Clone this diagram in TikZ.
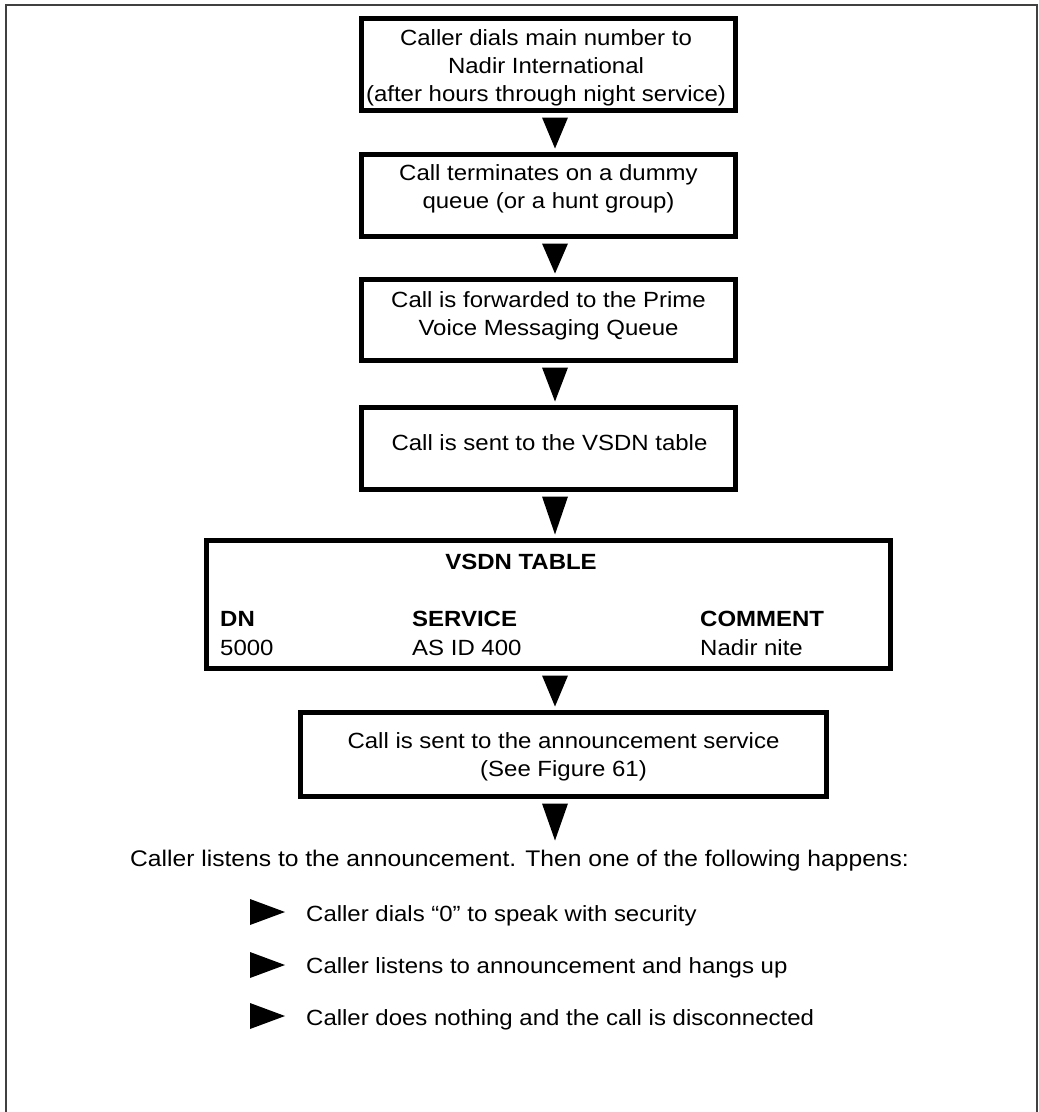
\documentclass[tikz,border=0pt]{standalone}
\usepackage{fontspec}
\setmainfont{Liberation Sans}[FakeStretch=1.09]
\usetikzlibrary{calc}
\begin{document}
\begin{tikzpicture}[x=1pt,y=-1pt,
  box/.style={draw=black, line width=5pt, inner sep=0pt},
  txt/.style={inner sep=0pt, font=\fontsize{22}{28}\selectfont, align=center},
  cell/.style={inner sep=0pt, font=\fontsize{22}{28}\selectfont, anchor=base west},
  hcell/.style={cell, font=\fontsize{22}{28}\selectfont\bfseries},
  tip/.style={fill=black},
  frame/.style={draw=black!75, line width=2pt}
]
\useasboundingbox (0,0) rectangle (1039,1112);
\draw[frame] (6,1112) -- (6,5) -- (1037,5) -- (1037,1112);

% boxes
\node[box, minimum width=374pt, minimum height=92pt] (b1) at (548.5,64.5) {};
\node[box, minimum width=374pt, minimum height=82pt] (b2) at (548.5,195.5) {};
\node[box, minimum width=374pt, minimum height=81pt] (b3) at (548.5,320) {};
\node[box, minimum width=374pt, minimum height=82pt] (b4) at (548.5,448.5) {};
\node[box, minimum width=684pt, minimum height=128pt] (vsdn) at (548.5,604.5) {};
\node[box, minimum width=526pt, minimum height=84pt] (b6) at (563.5,754.5) {};

% box texts
\node[txt, anchor=north] (t1) at (546,29.2) {Caller dials main number to\\Nadir International\\(after hours through night service)};
\node[txt, anchor=north] (t2) at (548.5,164.5) {Call terminates on a dummy\\queue (or a hunt group)};
\node[txt, anchor=north] (t3) at (548.5,291.2) {Call is forwarded to the Prime\\Voice Messaging Queue};
\node[txt, anchor=base] (t4) at (549.5,450) {Call is sent to the VSDN table};
\node[txt, anchor=north] (t6) at (563.5,732.2) {Call is sent to the announcement service\\(See Figure 61)};

% VSDN table
\node[hcell, anchor=base] (vt) at (521,569) {VSDN TABLE};
\node[hcell] (h1) at (220,626) {DN};
\node[hcell] (h2) at (412,626) {SERVICE};
\node[hcell] (h3) at (700,626) {COMMENT};
\node[cell] (d1) at (220,655) {5000};
\node[cell] (d2) at (412,655) {AS ID 400};
\node[cell] (d3) at (700,655) {Nadir nite};

% connectors (solid triangles)
\fill[tip] ($(b1.south)+(-6.5,4.5)$) -- ($(b1.south)+(19.5,4.5)$) -- ($(b2.north)+(6.5,-3.5)$) -- cycle;
\fill[tip] ($(b2.south)+(-6.5,4.5)$) -- ($(b2.south)+(19.5,4.5)$) -- ($(b3.north)+(6.5,-3.5)$) -- cycle;
\fill[tip] ($(b3.south)+(-6.5,4.5)$) -- ($(b3.south)+(19.5,4.5)$) -- ($(b4.north)+(6.5,-3.5)$) -- cycle;
\fill[tip] ($(b4.south)+(-6.5,4.5)$) -- ($(b4.south)+(19.5,4.5)$) -- ($(vsdn.north)+(6.5,-3.5)$) -- cycle;
\fill[tip] ($(vsdn.south)+(-6.5,4.5)$) -- ($(vsdn.south)+(19.5,4.5)$) -- ($(b6.north)+(-8.5,-3.5)$) -- cycle;
\coordinate (end) at ($(b6.south)+(-8.5,41.5)$);
\fill[tip] ($(b6.south)+(-21.5,4.5)$) -- ($(b6.south)+(4.5,4.5)$) -- (end) -- cycle;

% outcome text
\node[cell, font=\fontsize{22.6}{28}\selectfont] (listen) at (130,866) {Caller listens to the announcement. Then one of the following happens:};
\node[cell] (s1) at (306,921) {Caller dials “0” to speak with security};
\node[cell] (s2) at (306,973) {Caller listens to announcement and hangs up};
\node[cell] (s3) at (306,1025) {Caller does nothing and the call is disconnected};
\fill[tip] (250,899) -- (285,912) -- (250,925) -- cycle;
\fill[tip] (250,952) -- (285,965) -- (250,978) -- cycle;
\fill[tip] (250,1003) -- (285,1016) -- (250,1029) -- cycle;
\end{tikzpicture}
\end{document}
